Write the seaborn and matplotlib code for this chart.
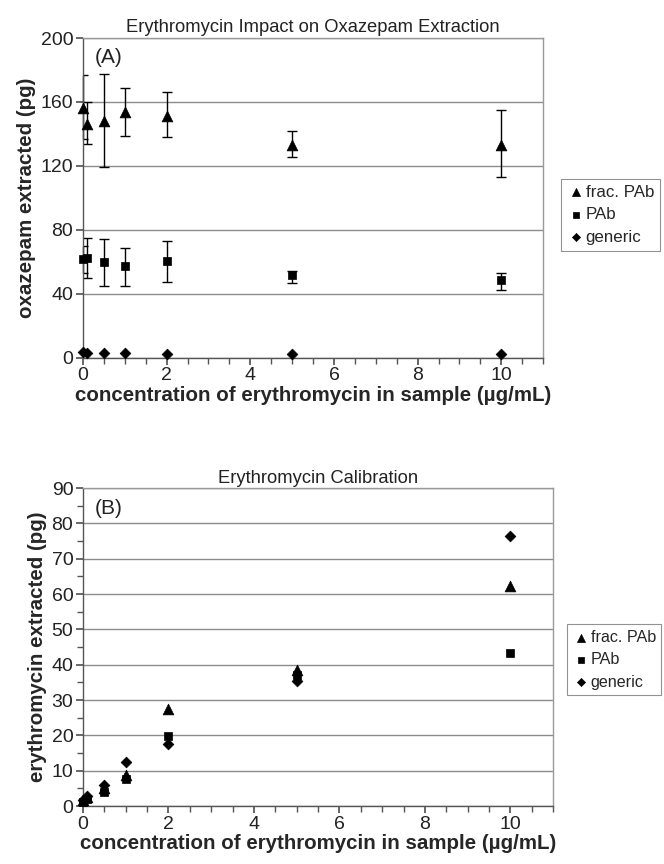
import numpy as np
import pandas as pd
import matplotlib
matplotlib.use("Agg")
import matplotlib.pyplot as plt
from matplotlib.ticker import MultipleLocator
import seaborn as sns

sns.set_theme(style="white")
plt.rcParams['font.family'] = ['Liberation Sans', 'DejaVu Sans']

# ---------------- data ----------------
conc = [0, 0.1, 0.5, 1, 2, 5, 10]
series = ["frac. PAb", "PAb", "generic"]

# Panel A: oxazepam extracted (pg)
oxa_frac = [156, 146.5, 148, 153.5, 151.5, 133, 133]
oxa_frac_hi = [177, 160, 177.5, 169, 166.5, 142, 155]
oxa_frac_lo = [137, 134, 119, 139, 138, 125.5, 113]
oxa_pab = [61.5, 62.5, 60, 57.3, 60.6, 51.6, 48.6]
oxa_pab_hi = [70, 74.7, 74, 68.6, 73, 54, 53.3]
oxa_pab_lo = [53.3, 50, 44.8, 44.8, 47.4, 46.7, 42.1]
oxa_gen = [3.3, 2.8, 3.2, 3.2, 2.3, 2.3, 2.3]

# Panel B: erythromycin extracted (pg)
ery_frac = [1.8, 2.5, 5.0, 8.7, 27.5, 38.4, 62.2]
ery_pab = [1.2, 2.0, 4.0, 7.6, 19.9, 37.0, 43.3]
ery_gen = [1.6, 2.8, 6.0, 12.4, 17.6, 35.4, 76.4]

markers = {"frac. PAb": "^", "PAb": "s", "generic": "D"}
sizes = {"frac. PAb": 60, "PAb": 38, "generic": 30}

dfA = pd.DataFrame({"conc": conc * 3,
                    "value": oxa_frac + oxa_pab + oxa_gen,
                    "series": [s for s in series for _ in conc]})
dfB = pd.DataFrame({"conc": conc * 3,
                    "value": ery_frac + ery_pab + ery_gen,
                    "series": [s for s in series for _ in conc]})

fig = plt.figure(figsize=(6.64, 8.64), dpi=100)
axA = fig.add_axes([0.125, 0.586, 0.693, 0.370])
axB = fig.add_axes([0.125, 0.067, 0.708, 0.368])

grid_c = "#8c8c8c"
TICK = 14
LAB = 14.8
TIT = 13.2

def style_axes(ax, ymax, ystep, yminor):
    ax.set_xlim(0, 11)
    ax.set_ylim(0, ymax)
    ax.xaxis.set_major_locator(MultipleLocator(2))
    ax.xaxis.set_minor_locator(MultipleLocator(0.5))
    ax.yaxis.set_major_locator(MultipleLocator(ystep))
    if yminor:
        ax.yaxis.set_minor_locator(MultipleLocator(yminor))
    ax.yaxis.grid(True, color=grid_c, linewidth=1.0)
    ax.xaxis.grid(False)
    ax.set_axisbelow(True)
    for side in ["top", "right"]:
        ax.spines[side].set_color("#9a9a9a")
        ax.spines[side].set_linewidth(1.0)
    for side in ["left", "bottom"]:
        ax.spines[side].set_color("#555555")
        ax.spines[side].set_linewidth(1.0)
    ax.tick_params(axis="both", which="both", direction="out", color="#555555",
                   bottom=True, left=True)
    ax.tick_params(axis="both", which="major", length=5, labelsize=TICK, pad=2)
    ax.tick_params(axis="both", which="minor", length=4)
    ax.tick_params(axis="both", labelcolor="#222222")
    for c in ax.collections:
        c.set_clip_on(False)

def add_legend(ax, dx, ymid, fs):
    leg = ax.legend(loc="center left", bbox_to_anchor=(1 + dx, ymid), frameon=True,
                    fontsize=fs, handletextpad=0.1, handlelength=1.0, markerscale=0.75,
                    borderpad=0.35, labelspacing=0.45, fancybox=False,
                    edgecolor="#777777", borderaxespad=0)
    leg.get_frame().set_linewidth(0.8)
    return leg

# ---------------- Panel A ----------------
for s in series:
    sub = dfA[dfA["series"] == s]
    sns.scatterplot(data=sub, x="conc", y="value", marker=markers[s], s=sizes[s],
                    color="black", edgecolor="black", linewidth=0.5, ax=axA,
                    label=s, zorder=3)
for vals, hi, lo in [(oxa_frac, oxa_frac_hi, oxa_frac_lo),
                     (oxa_pab, oxa_pab_hi, oxa_pab_lo)]:
    v = np.array(vals)
    yerr = [v - np.array(lo), np.array(hi) - v]
    axA.errorbar(conc, v, yerr=yerr, fmt="none", ecolor="black",
                 elinewidth=1.0, capsize=3.5, capthick=1.0, zorder=2)

style_axes(axA, 200, 40, None)
axA.set_title("Erythromycin Impact on Oxazepam Extraction", fontsize=TIT, pad=4,
              color="#222222")
axA.set_ylabel("oxazepam extracted (pg)", fontsize=LAB, fontweight="bold", labelpad=3)
axA.set_xlabel("concentration of erythromycin in sample (\u00b5g/mL)", fontsize=LAB,
               fontweight="bold", labelpad=1)
axA.text(0.026, 0.94, "(A)", transform=axA.transAxes, fontsize=15,
         va="center", ha="left", color="#222222")
add_legend(axA, 0.039, 0.447, 12.2)

# ---------------- Panel B ----------------
for s in series:
    sub = dfB[dfB["series"] == s]
    sns.scatterplot(data=sub, x="conc", y="value", marker=markers[s], s=sizes[s],
                    color="black", edgecolor="black", linewidth=0.5, ax=axB,
                    label=s, zorder=3)
style_axes(axB, 90, 10, 5)
axB.set_title("Erythromycin Calibration", fontsize=TIT, pad=4, color="#222222")
axB.set_ylabel("erythromycin extracted (pg)", fontsize=LAB, fontweight="bold", labelpad=3)
axB.set_xlabel("concentration of erythromycin in sample (\u00b5g/mL)", fontsize=LAB,
               fontweight="bold", labelpad=1)
axB.text(0.026, 0.935, "(B)", transform=axB.transAxes, fontsize=15,
         va="center", ha="left", color="#222222")
add_legend(axB, 0.030, 0.46, 11.6)

fig.savefig("out.png", dpi=100, facecolor="white")
